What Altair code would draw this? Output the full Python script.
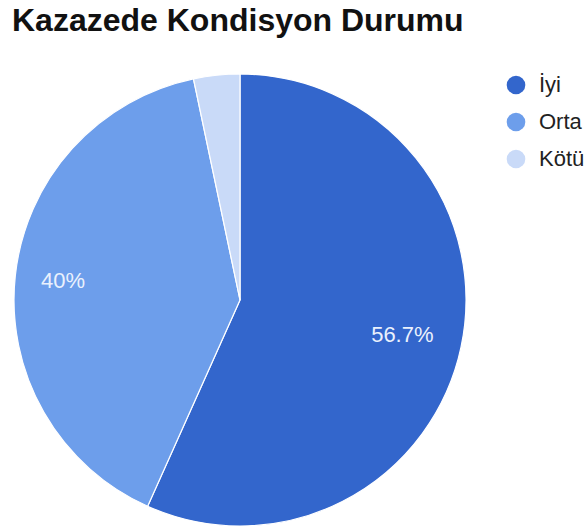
import altair as alt
import pandas as pd

categories = ["İyi", "Orta", "Kötü"]
values = [56.7, 40.0, 3.3]
labels = ["56.7%", "40%", ""]
colors = ["#3366cc", "#6d9eeb", "#c9daf8"]

df = pd.DataFrame({
    "kategori": categories,
    "deger": values,
    "etiket": labels,
    "sira": list(range(len(categories))),
})

cx, cy, R = 240, 250, 226

base = alt.Chart(df).encode(
    theta=alt.Theta("deger:Q", stack=True),
    order=alt.Order("sira:Q"),
)

arcs = base.mark_arc(outerRadius=R, stroke="white", strokeWidth=1.2).encode(
    x=alt.value(cx), y=alt.value(cy),
    color=alt.Color(
        "kategori:N",
        scale=alt.Scale(domain=categories, range=colors),
        sort=categories,
        legend=alt.Legend(
            title=None, orient="none", legendX=505, legendY=24,
            symbolType="circle", symbolSize=346, labelFontSize=22,
            labelColor="#222222", labelFont="Liberation Sans",
            labelOffset=12, rowPadding=15, symbolStrokeWidth=0,
        ),
    ),
)


def label_layer(cat, rad):
    return base.mark_text(radius=rad, fontSize=22, font="Liberation Sans",
                          color="#eaf1fd").encode(
        x=alt.value(cx), y=alt.value(cy),
        text="etiket:N",
        opacity=alt.condition(alt.datum.kategori == cat, alt.value(1), alt.value(0)),
    )


text1 = label_layer(categories[0], 166)
text2 = label_layer(categories[1], 178)

chart = (arcs + text1 + text2).properties(
    width=588, height=479,
    padding={"left": 0, "top": 50, "right": 0, "bottom": 0},
    autosize=alt.AutoSizeParams(type="none"),
    title=alt.TitleParams(
        "Kazazede Kondisyon Durumu", anchor="start", fontSize=32,
        font="Liberation Sans", fontWeight="bold", color="#111111",
        offset=12, dx=12,
    ),
).configure_view(stroke=None)

chart.save("out.html", embed_options={"renderer": "svg", "actions": False})
